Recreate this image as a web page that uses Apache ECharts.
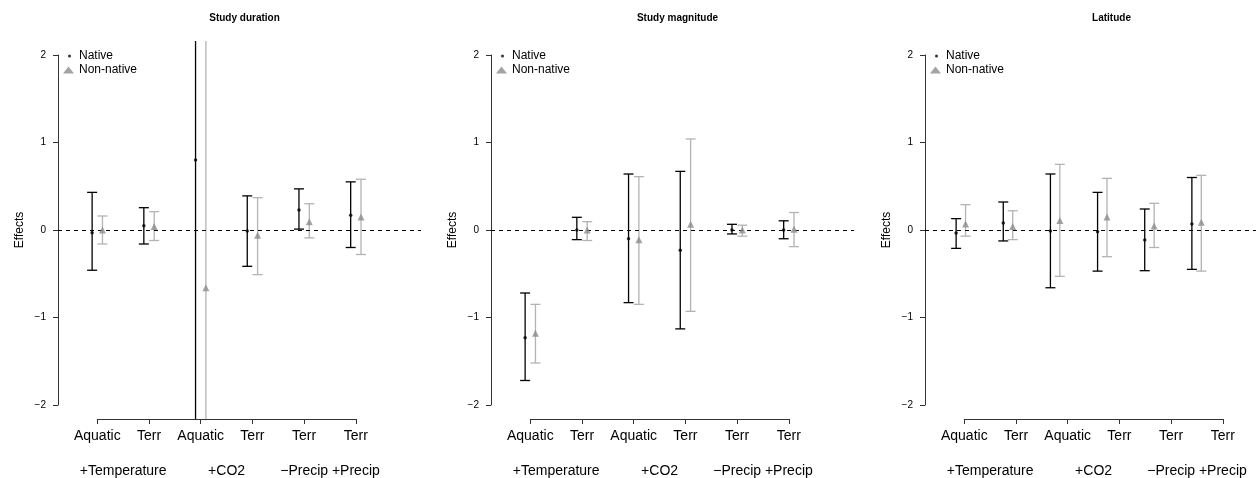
<!DOCTYPE html>
<html>
<head>
<meta charset="utf-8">
<script src="https://cdn.jsdelivr.net/npm/echarts@6/dist/echarts.min.js"></script>
<style>
  html, body { margin: 0; padding: 0; background: #fff; }
  #main { width: 1256px; height: 478px; }
</style>
</head>
<body>
<div id="main"></div>
<script>
// categories along each x axis
var categories = ['Aquatic', 'Terr', 'Aquatic', 'Terr', 'Terr', 'Terr'];
// treatment group labels and where they sit on the category scale (1..6)
var groupLabels = ['+Temperature', '+CO2', '\u2212Precip', '+Precip'];
var groupPos = [1.5, 3.5, 5, 6];
var panelTitles = ['Study duration', 'Study magnitude', 'Latitude'];
var yTicks = [-2, -1, 0, 1, 2];

// Study duration
var durNativeMean = [-0.03, 0.05, 0.80, -0.01, 0.23, 0.17];
var durNativeLo = [-0.46, -0.16, -3.4, -0.415, 0.01, -0.20];
var durNativeHi = [0.43, 0.255, 5.0, 0.39, 0.47, 0.55];
var durNonMean = [0.0, 0.04, -0.66, -0.06, 0.095, 0.15];
var durNonLo = [-0.16, -0.12, -4.6, -0.51, -0.09, -0.28];
var durNonHi = [0.16, 0.21, 3.3, 0.37, 0.30, 0.58];

// Study magnitude
var magNativeMean = [-1.23, 0.0, -0.10, -0.23, 0.0, 0.0];
var magNativeLo = [-1.72, -0.11, -0.83, -1.13, -0.045, -0.10];
var magNativeHi = [-0.72, 0.145, 0.64, 0.67, 0.065, 0.105];
var magNonMean = [-1.18, 0.0, -0.11, 0.065, 0.0, 0.01];
var magNonLo = [-1.52, -0.12, -0.85, -0.93, -0.07, -0.19];
var magNonHi = [-0.85, 0.095, 0.61, 1.04, 0.055, 0.20];

// Latitude
var latNativeMean = [-0.035, 0.08, -0.01, -0.02, -0.115, 0.07];
var latNativeLo = [-0.21, -0.125, -0.66, -0.47, -0.465, -0.45];
var latNativeHi = [0.13, 0.32, 0.64, 0.43, 0.24, 0.60];
var latNonMean = [0.07, 0.04, 0.11, 0.15, 0.045, 0.09];
var latNonLo = [-0.07, -0.11, -0.53, -0.305, -0.20, -0.47];
var latNonHi = [0.29, 0.22, 0.75, 0.59, 0.305, 0.625];

var panels = [
  { nm: durNativeMean, nl: durNativeLo, nh: durNativeHi, om: durNonMean, ol: durNonLo, oh: durNonHi },
  { nm: magNativeMean, nl: magNativeLo, nh: magNativeHi, om: magNonMean, ol: magNonLo, oh: magNonHi },
  { nm: latNativeMean, nl: latNativeLo, nh: latNativeHi, om: latNonMean, ol: latNonLo, oh: latNonHi }
];

var panelLeft = [58, 491, 925];
var plotW = 363, xMin = 0.24, xMax = 7.26;
var pxPerX = plotW / (xMax - xMin);
var offset = 0.1;
var nativeColor = '#000000', nonLineColor = '#b3b3b3', nonPointColor = '#8c8c8c';
var fontFam = '"Liberation Sans", Arial, Helvetica, sans-serif';

function errorBar(color) {
  return function (params, api) {
    var x = api.value(0), lo = api.value(1), hi = api.value(2);
    var pLo = api.coord([x, lo]), pHi = api.coord([x, hi]);
    var cs = params.coordSys;
    var top = cs.y, bottom = cs.y + cs.height;
    var st = { stroke: color, lineWidth: 1.3 };
    var kids = [{
      type: 'line',
      shape: { x1: pLo[0], y1: Math.min(pLo[1], bottom), x2: pHi[0], y2: Math.max(pHi[1], top) },
      style: st
    }];
    // caps only when the end is inside the plot (R clips them)
    if (pHi[1] >= top) kids.push({ type: 'line', shape: { x1: pHi[0] - 5, y1: pHi[1], x2: pHi[0] + 5, y2: pHi[1] }, style: st });
    if (pLo[1] <= bottom) kids.push({ type: 'line', shape: { x1: pLo[0] - 5, y1: pLo[1], x2: pLo[0] + 5, y2: pLo[1] }, style: st });
    return { type: 'group', children: kids };
  };
}

var grid = [], xAxis = [], yAxis = [], series = [], legend = [], title = [];

panels.forEach(function (d, p) {
  var L = panelLeft[p];
  var g = p * 3;
  var xa = p * 4;

  title.push({
    text: panelTitles[p], left: L + plotW / 2, top: 8, textAlign: 'center',
    textStyle: { fontSize: 10, fontWeight: 'bold', color: '#000', fontFamily: fontFam }
  });

  // data grid, y display grid, x display grid
  grid.push({ left: L, top: 41, width: plotW, height: 378 });
  grid.push({ left: L, top: 55, width: 10, height: 350 });
  grid.push({ left: L + (1 - xMin) * pxPerX, top: 410, width: 5 * pxPerX, height: 9 });

  xAxis.push({ gridIndex: g, type: 'value', min: xMin, max: xMax, show: false });
  xAxis.push({ gridIndex: g + 1, type: 'value', show: false });
  xAxis.push({
    gridIndex: g + 2, type: 'category', data: categories, boundaryGap: false, position: 'bottom',
    axisLine: { lineStyle: { color: '#333', width: 1 } },
    axisTick: { length: 5, lineStyle: { color: '#333' } },
    axisLabel: { fontSize: 14, color: '#000', margin: 10, interval: 0, fontFamily: fontFam },
    splitLine: { show: false }
  });
  xAxis.push({
    gridIndex: g + 2, type: 'value', min: 1, max: 6, interval: 0.5, position: 'bottom',
    axisLine: { show: false }, axisTick: { show: false }, splitLine: { show: false },
    axisLabel: {
      fontSize: 14, color: '#000', margin: 45, fontFamily: fontFam,
      showMinLabel: true, showMaxLabel: true,
      formatter: function (v) {
        var i = groupPos.indexOf(v);
        return i >= 0 ? groupLabels[i] : '';
      }
    }
  });

  yAxis.push({ gridIndex: g, type: 'value', min: -2.16, max: 2.16, show: false });
  yAxis.push({
    gridIndex: g + 1, type: 'value', min: yTicks[0], max: yTicks[yTicks.length - 1], interval: 1,
    axisLine: { show: true, lineStyle: { color: '#333', width: 1 } },
    axisTick: { show: true, length: 5, lineStyle: { color: '#333' } },
    axisLabel: {
      fontSize: 10, color: '#000', margin: 12, fontFamily: fontFam,
      formatter: function (v) { return String(v).replace('-', '\u2212'); }
    },
    splitLine: { show: false },
    name: 'Effects', nameLocation: 'middle', nameGap: 32,
    nameTextStyle: { fontSize: 12, color: '#000', fontFamily: fontFam }
  });
  yAxis.push({ gridIndex: g + 2, type: 'value', show: false });

  var nBars = [], oBars = [], nPts = [], oPts = [];
  categories.forEach(function (c, i) {
    nBars.push([i + 1 - offset, d.nl[i], d.nh[i]]);
    oBars.push([i + 1 + offset, d.ol[i], d.oh[i]]);
    nPts.push([i + 1 - offset, d.nm[i]]);
    oPts.push([i + 1 + offset, d.om[i]]);
  });

  series.push({
    name: 'Native CI', type: 'custom', xAxisIndex: xa, yAxisIndex: g,
    renderItem: errorBar(nativeColor), data: nBars, encode: { x: 0, y: [1, 2] }, z: 3, silent: true
  });
  series.push({
    name: 'Non-native CI', type: 'custom', xAxisIndex: xa, yAxisIndex: g,
    renderItem: errorBar(nonLineColor), data: oBars, encode: { x: 0, y: [1, 2] }, z: 3, silent: true
  });
  series.push({
    name: 'Native', type: 'scatter', xAxisIndex: xa, yAxisIndex: g,
    symbol: 'circle', symbolSize: 3.5, itemStyle: { color: nativeColor }, data: nPts, z: 5, silent: true,
    markLine: {
      silent: true, symbol: ['none', 'none'], label: { show: false },
      lineStyle: { type: [4, 4], color: '#000', width: 1 },
      data: [{ yAxis: 0 }]
    }
  });
  series.push({
    name: 'Non-native', type: 'scatter', xAxisIndex: xa, yAxisIndex: g,
    symbol: 'triangle', symbolSize: 7, itemStyle: { color: nonPointColor }, data: oPts, z: 5, silent: true
  });

  legend.push({
    data: ['Native'], left: L + 10, top: 50, itemWidth: 9, itemHeight: 3, selectedMode: false,
    textStyle: { fontSize: 12, color: '#000', fontFamily: fontFam }, padding: 0
  });
  legend.push({
    data: ['Non-native'], left: L + 5, top: 64, itemWidth: 11, itemHeight: 7, selectedMode: false,
    textStyle: { fontSize: 12, color: '#000', fontFamily: fontFam }, padding: 0
  });
});

var chart = echarts.init(document.getElementById('main'), null, { renderer: 'canvas' });
chart.setOption({
  animation: false,
  textStyle: { fontFamily: fontFam },
  title: title,
  legend: legend,
  grid: grid,
  xAxis: xAxis,
  yAxis: yAxis,
  series: series
});
</script>
</body>
</html>
